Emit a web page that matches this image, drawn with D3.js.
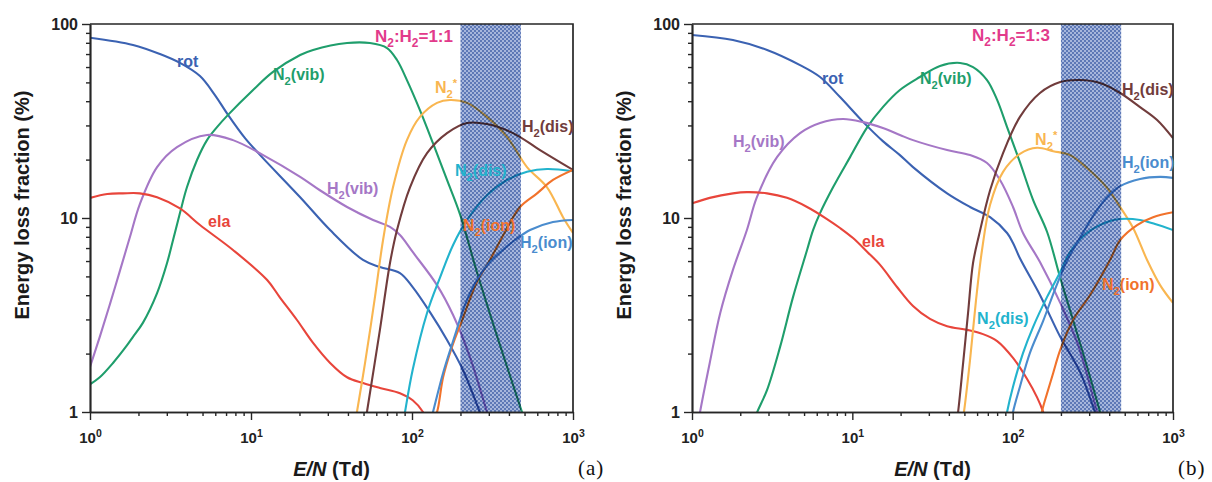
<!DOCTYPE html>
<html>
<head>
<meta charset="utf-8">
<script src="https://cdn.jsdelivr.net/npm/d3@7"></script>
<style>
  body { margin: 0; background: #fff; }
  svg { display: block; font-family: "Liberation Sans", Arial, sans-serif; }
</style>
</head>
<body>
<svg id="chart" width="1212" height="482"></svg>
<script>
// ---- data: [E/N (Td), energy loss fraction (%)] ----
const seriesKeys = ["rot", "N2vib", "H2vib", "ela", "N2star", "H2dis", "N2dis", "N2ion", "H2ion"];
const seriesLabels = ["rot", "N_2(vib)", "H_2(vib)", "ela", "N_2^*", "H_2(dis)", "N_2(dis)", "N_2(ion)", "H_2(ion)"];
const titles = ["N_2:H_2=1:1", "N_2:H_2=1:3"];
const panelTags = ["(a)", "(b)"];
const band = [200, 475];

const xMajor = [1, 10, 100, 1000];
const xTickLabels = ["10^0", "10^1", "10^2", "10^3"];
const yMajor = [1, 10, 100];
const yTickLabels = ["1", "10", "100"];

// panel (a) N2:H2 = 1:1
const rotA = [[1,85],[1.85,78],[2.72,70],[3.62,63],[4.82,53.9],[5.97,43],[7.2,34],[9.18,25.8],[11.4,21.1],[20.2,12.8],[31,8.67],[49.6,6.08],[63.2,5.59],[84.2,5.2],[101,4.4],[129,3.28],[165,2.35],[207,1.65],[264,1],[288,0.84]];
const N2vibA = [[1,1.39],[1.15,1.51],[1.39,1.79],[1.7,2.21],[1.85,2.44],[2.13,2.88],[2.61,4.1],[3.01,5.86],[3.28,7.7],[3.62,10.6],[4.0,14.4],[4.62,19.9],[5.33,25.2],[6.15,29.4],[7.2,34],[10.3,45.7],[13.7,56.6],[20.2,69.2],[24.3,73.5],[39.5,79.8],[54.8,79.8],[70,75.2],[80.7,65.2],[93,51.4],[112,36],[135,24.3],[165,15.7],[199,10.4],[253,5.27],[352,2.21],[482,1],[525,0.79]];
const H2vibA = [[1,1.71],[1.15,2.44],[1.33,3.6],[1.54,5.4],[1.77,7.98],[2.04,11.8],[2.61,18.3],[3.47,23.2],[5.33,26.8],[7.73,25.2],[11.9,21.1],[20.2,16.3],[26.8,13.9],[39.5,11.4],[57.3,9.77],[73,9.0],[84.2,8.17],[101,6.68],[143,4.51],[180,3.16],[229,1.92],[292,1],[314,0.81]];
const elaA = [[1,12.7],[1.28,13.3],[1.6,13.4],[2.04,13.4],[2.61,12.8],[3.62,11.2],[4.82,9.2],[7.73,6.84],[12.6,4.79],[15.1,3.9],[19.3,2.98],[24.3,2.27],[31,1.79],[39.5,1.51],[49.6,1.41],[63.2,1.33],[84.2,1.25],[101,1.15],[117,1],[126,0.86]];
const N2starA = [[44.3,0.86],[45.5,1],[51.1,1.79],[58.9,3.92],[66.1,7.7],[76.2,14.4],[93,25.2],[112,33.2],[143,39.2],[172,40.6],[220,39.2],[292,33.2],[389,26.2],[518,18.3],[690,14.4],[867,10.1],[1000,8.37]];
const H2disA = [[51.1,0.86],[52.5,1],[63.2,2.65],[73,5.86],[80.7,8.67],[97.2,14.4],[124,21.6],[165,27.4],[220,30.9],[292,30.5],[424,27.4],[624,22.4],[1000,17.7]];
const N2disA = [[87.9,0.86],[90.5,1],[101,1.65],[124,3.24],[149,4.91],[180,7.26],[220,9.77],[292,13.1],[389,15.7],[518,17.3],[690,17.9],[1000,17.4]];
const N2ionA = [[135,0.91],[143,1],[156,1.51],[177,2.16],[205,2.98],[253,4.68],[305,6.08],[378,8.47],[469,11.4],[598,13.4],[751,15.7],[1000,17.7]];
const H2ionA = [[131,0.91],[135,1],[156,1.59],[185,2.49],[213,3.56],[257,4.91],[305,5.93],[367,6.84],[436,7.7],[541,8.67],[751,9.53],[1000,9.77]];

// panel (b) N2:H2 = 1:3
const rotB = [[1,87.8],[1.8,82.7],[2.94,73.5],[4.72,61.4],[6.29,53.3],[8.38,42],[11.7,31.2],[15.5,24.9],[19.8,21.1],[23.9,18.3],[39,13.4],[54.2,11.4],[72.3,10.1],[92.3,8.37],[100.5,7.43],[111,6.2],[148,4.01],[198,2.44],[263,1.61],[326,1],[351,0.84]];
const N2vibB = [[2.47,0.91],[2.54,0.99],[2.94,1.3],[3.54,2.16],[4.27,3.92],[5.22,6.84],[5.69,8.67],[6.29,10.6],[7.58,14.4],[9.68,20.6],[12.4,29.4],[15.5,37.3],[19.8,45.7],[26.4,53.3],[35.2,60.8],[47,63],[56.6,60],[69.2,51.4],[80,40.6],[92.3,29.4],[111,19.4],[134,12.4],[164,8.47],[198,4.91],[238,2.98],[291,1.71],[351,1],[372,0.84]];
const H2vibB = [[1.09,0.86],[1.12,0.99],[1.29,1.79],[1.5,3.24],[1.8,5.4],[2.2,8.67],[2.54,12.8],[3.39,20.6],[4.72,27.4],[6.29,30.9],[8.75,32.4],[11.7,31.2],[15.5,29.1],[19.8,26.8],[23.9,25.2],[39,22.4],[54.2,21.1],[69.2,19.2],[83.4,15.7],[100.5,11.4],[116,8.37],[148,5.93],[198,3.65],[256,2.21],[336,1],[357,0.84]];
const elaB = [[1,11.9],[1.29,12.7],[1.8,13.4],[2.2,13.6],[2.94,13.4],[3.91,12.7],[5.22,11.4],[6.95,9.88],[8.38,8.88],[10.1,7.88],[12.4,6.68],[14.9,5.73],[19,4.41],[23.9,3.52],[30.5,3.02],[39,2.77],[52,2.65],[65.3,2.52],[80,2.32],[100.5,1.9],[123,1.48],[142,1.19],[155,1],[162,0.86]];
const N2starB = [[48.3,0.86],[49.7,1],[54.2,1.85],[59.1,3.78],[64.4,6.84],[72.3,11.7],[87.1,17.3],[111,21.4],[142,23],[179,22.1],[228,21.1],[291,18.1],[388,14.3],[468,11.4],[564,8.88],[689,6.08],[831,4.51],[1000,3.65]];
const H2disB = [[44.4,0.86],[45.6,0.99],[49.1,1.79],[52.7,3.24],[56.6,5.86],[61.7,8.17],[72.3,13.9],[87.1,21.6],[111,33.2],[148,44.1],[198,50.2],[263,51.4],[351,49.6],[468,44.1],[623,37.3],[796,32],[1000,25.8]];
const N2disB = [[89.7,0.86],[92.3,1],[100.5,1.35],[116,2.01],[134,2.74],[164,3.92],[198,5.27],[228,6.68],[291,8.37],[388,9.53],[468,9.88],[623,9.77],[773,9.31],[1000,8.67]];
const N2ionB = [[148,0.86],[153,1.02],[164,1.25],[179,1.59],[198,2.09],[238,2.98],[304,4.01],[405,6.08],[468,7.7],[597,9.2],[751,10.1],[1000,10.7]];
const H2ionB = [[97.8,0.86],[100.5,1],[111,1.35],[128,2.01],[155,2.95],[184,4.3],[218,6.0],[263,7.9],[326,10.6],[388,12.8],[468,14.6],[623,15.9],[831,16.3],[1000,16.1]];

// label anchors in data units (E/N, %), same order as seriesKeys
const labelAtA = [[3.47,60],[13.7,51.4],[29.6,13.3],[5.41,9.0],[139,44.1],[482,27.8],[185,16.5],[207,8.57],[469,7.0]];
const labelAtB = [[6.47,49.1],[26.4,49.1],[1.8,23.2],[11.5,7.09],[138,23.8],[481,43.1],[60,2.84],[361,4.25],[481,18.1]];
const titleAt = [[58.9,80.8],[55.8,81.7]];

const colors = {
  rot: "#3b62b2", N2vib: "#1f9e6c", H2vib: "#a577c6", ela: "#e8453b",
  N2star: "#f9b650", H2dis: "#713c3c", N2dis: "#22b3cd", N2ion: "#f1722b", H2ion: "#4a8cce"
};

const panels = [
  { id: "a", left: 90, right: 573, series: [rotA, N2vibA, H2vibA, elaA, N2starA, H2disA, N2disA, N2ionA, H2ionA], labelAt: labelAtA },
  { id: "b", left: 692, right: 1173, series: [rotB, N2vibB, H2vibB, elaB, N2starB, H2disB, N2disB, N2ionB, H2ionB], labelAt: labelAtB }
];

const plotTop = 24, plotBottom = 412;
const svg = d3.select("#chart");
const defs = svg.append("defs");
svg.append("rect").attr("width", 1212).attr("height", 482).attr("fill", "#fff");

// checkered fill of the highlighted E/N window (multiplied over the curves)
const pat = defs.append("pattern").attr("id", "checker")
  .attr("patternUnits", "userSpaceOnUse").attr("width", 4).attr("height", 4);
pat.append("rect").attr("width", 4).attr("height", 4).attr("fill", "#a6b6dc");
pat.append("rect").attr("width", 2).attr("height", 2).attr("fill", "#5d78b6");
pat.append("rect").attr("x", 2).attr("y", 2).attr("width", 2).attr("height", 2).attr("fill", "#5d78b6");

// text with _x subscripts and ^x superscripts
function rich(sel, str, size) {
  const parts = str.split(/([_^].)/).filter(s => s.length);
  let shift = 0;
  parts.forEach(s => {
    let target = 0, fs = size, txt = s;
    if (s[0] === "_") { target = size * 0.3; fs = size * 0.7; txt = s.slice(1); }
    else if (s[0] === "^") { target = -size * 0.4; fs = size * 0.7; txt = s.slice(1); }
    sel.append("tspan").attr("dy", target - shift).attr("font-size", fs).text(txt);
    shift = target;
  });
}

panels.forEach((p, pi) => {
  const x = d3.scaleLog().domain([1, 1000]).range([p.left, p.right]);
  const y = d3.scaleLog().domain([1, 100]).range([plotBottom, plotTop]);
  const g = svg.append("g");

  defs.append("clipPath").attr("id", "clip-" + p.id)
    .append("rect").attr("x", p.left).attr("y", plotTop)
    .attr("width", p.right - p.left).attr("height", plotBottom - plotTop);

  const plot = g.append("g").attr("clip-path", `url(#clip-${p.id})`);
  const line = d3.line()
    .x(d => x(d[0]))
    .y(d => y(d[1]))
    .curve(d3.curveCatmullRom.alpha(0.5));

  p.series.forEach((data, i) => {
    plot.append("path")
      .datum(data)
      .attr("fill", "none")
      .attr("stroke", colors[seriesKeys[i]])
      .attr("stroke-width", 2.1)
      .attr("d", line);
  });

  plot.append("rect")
    .attr("x", x(band[0])).attr("y", plotTop)
    .attr("width", x(band[1]) - x(band[0])).attr("height", plotBottom - plotTop)
    .attr("fill", "url(#checker)")
    .style("mix-blend-mode", "multiply");

  // axes
  const xMinor = x.ticks().filter(v => !xMajor.includes(v));
  const yMinor = y.ticks().filter(v => !yMajor.includes(v));

  const xAxisMinor = g.append("g").attr("transform", `translate(0,${plotBottom})`)
    .call(d3.axisBottom(x).tickValues(xMinor).tickSize(4).tickSizeOuter(0).tickFormat(""));
  const xAxis = g.append("g").attr("transform", `translate(0,${plotBottom})`)
    .call(d3.axisBottom(x).tickValues(xMajor).tickSize(8).tickSizeOuter(0).tickFormat(""));
  const yAxisMinor = g.append("g").attr("transform", `translate(${p.left},0)`)
    .call(d3.axisLeft(y).tickValues(yMinor).tickSize(4).tickSizeOuter(0).tickFormat(""));
  const yAxis = g.append("g").attr("transform", `translate(${p.left},0)`)
    .call(d3.axisLeft(y).tickValues(yMajor).tickSize(8).tickSizeOuter(0).tickFormat(""));

  [xAxisMinor, xAxis, yAxisMinor, yAxis].forEach(a => {
    a.selectAll("path.domain").attr("stroke", "#262626").attr("stroke-width", 1.7);
    a.selectAll(".tick line").attr("stroke", "#262626").attr("stroke-width", 1.4);
  });

  xAxis.selectAll(".tick").each(function (d, i) {
    const t = d3.select(this).append("text")
      .attr("y", 31).attr("text-anchor", "middle")
      .attr("fill", "#222").attr("font-weight", "bold").attr("font-size", 15);
    rich(t, xTickLabels[i], 15);
  });
  yAxis.selectAll(".tick").each(function (d, i) {
    d3.select(this).append("text")
      .attr("x", -12).attr("dy", "0.35em").attr("text-anchor", "end")
      .attr("fill", "#222").attr("font-weight", "bold").attr("font-size", 16)
      .text(yTickLabels[i]);
  });

  // top and right frame
  g.append("path")
    .attr("d", `M${p.left},${plotTop}H${p.right}V${plotBottom}`)
    .attr("fill", "none").attr("stroke", "#262626").attr("stroke-width", 1.7);

  // axis titles
  g.append("text")
    .attr("transform", `translate(${p.left - 61},${(plotTop + plotBottom) / 2 - 13}) rotate(-90)`)
    .attr("text-anchor", "middle").attr("font-weight", "bold").attr("font-size", 20)
    .attr("fill", "#1a1a1a")
    .text("Energy loss fraction (%)");

  const xt = g.append("text")
    .attr("x", (p.left + p.right) / 2).attr("y", 476)
    .attr("text-anchor", "middle").attr("font-weight", "bold").attr("font-size", 20)
    .attr("fill", "#1a1a1a");
  xt.append("tspan").attr("font-style", "italic").text("E/N");
  xt.append("tspan").text(" (Td)");

  g.append("text")
    .attr("x", p.right + 5).attr("y", 475)
    .attr("font-family", "'Liberation Serif', 'Times New Roman', serif")
    .attr("font-size", 21).attr("letter-spacing", 1).attr("fill", "#111")
    .text(panelTags[pi]);

  // curve labels
  p.labelAt.forEach((pos, i) => {
    const t = g.append("text")
      .attr("x", x(pos[0])).attr("y", y(pos[1]))
      .attr("font-weight", "bold").attr("font-size", 16)
      .attr("fill", colors[seriesKeys[i]]);
    rich(t, seriesLabels[i], 16);
  });

  const tt = g.append("text")
    .attr("x", x(titleAt[pi][0])).attr("y", y(titleAt[pi][1]))
    .attr("font-weight", "bold").attr("font-size", 17).attr("fill", "#e23a8b");
  rich(tt, titles[pi], 17);
});
</script>
</body>
</html>
